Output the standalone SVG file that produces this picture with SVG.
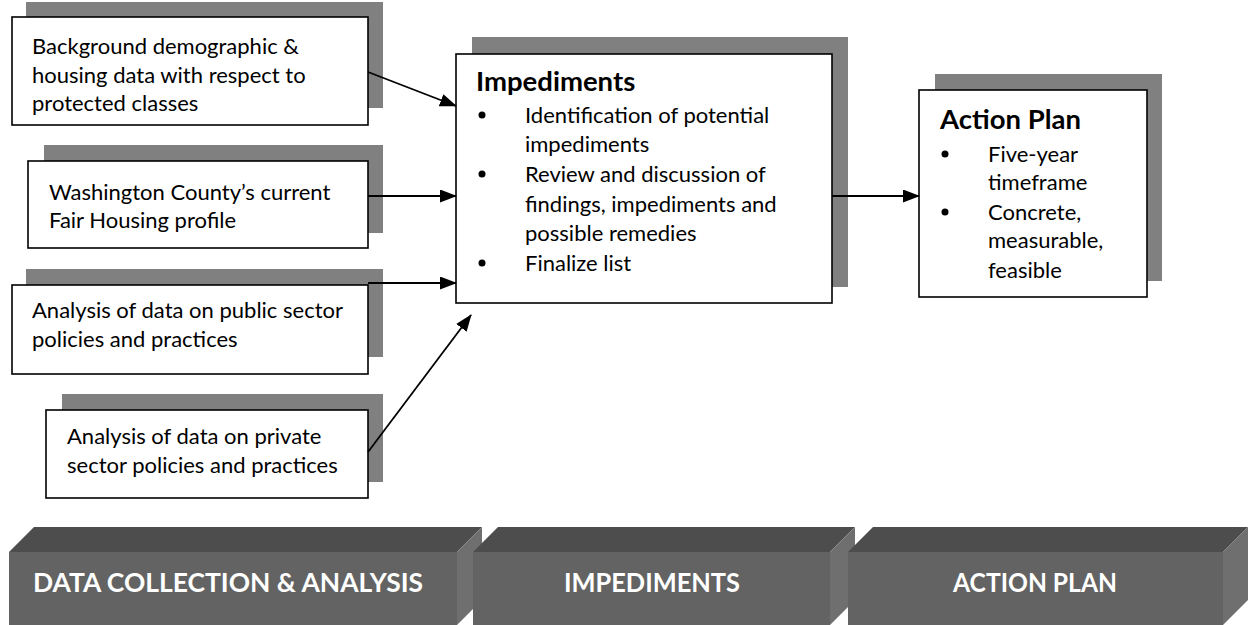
<svg xmlns="http://www.w3.org/2000/svg" width="1255" height="625" viewBox="0 0 1255 625">
<defs>
<style>
.sh{fill:#808080;}
.bx{fill:#fff;stroke:#000;stroke-width:1.6;}
.t{font-family:Lato,"Open Sans",sans-serif;font-size:22px;fill:#000;}
.h{font-family:Lato,"Open Sans",sans-serif;font-size:27.5px;font-weight:bold;fill:#000;}
.bt{font-family:Lato,"Open Sans",sans-serif;font-size:26px;font-weight:bold;fill:#fff;text-anchor:middle;}
.ln{stroke:#000;stroke-width:1.8;fill:none;}
.ft{fill:#636363;}
.tp{fill:#4d4d4d;}
.sd{fill:#6f6f6f;}
</style>
<marker id="ah" markerWidth="17" markerHeight="13" refX="16" refY="6.5" orient="auto" markerUnits="userSpaceOnUse">
<path d="M0,0 L17,6.5 L0,13 Z" fill="#000"/>
</marker>
</defs>
<rect width="1255" height="625" fill="#fff"/>

<g id="node-background">
<rect class="sh" x="26" y="2" width="357" height="106"/>
<rect class="bx" x="12" y="17" width="356" height="108"/>
<text class="t" x="32" y="54">Background demographic &amp;</text>
<text class="t" x="32" y="83">housing data with respect to</text>
<text class="t" x="32" y="111">protected classes</text>
</g>

<g id="node-washington">
<rect class="sh" x="44" y="145" width="339" height="88"/>
<rect class="bx" x="28" y="161" width="340" height="87"/>
<text class="t" x="49" y="200">Washington County’s current</text>
<text class="t" x="49" y="228">Fair Housing profile</text>
</g>

<g id="node-public">
<rect class="sh" x="26" y="269" width="357" height="88"/>
<rect class="bx" x="12" y="285" width="356" height="89"/>
<text class="t" x="32" y="318">Analysis of data on public sector</text>
<text class="t" x="32" y="347">policies and practices</text>
</g>

<g id="node-private">
<rect class="sh" x="62" y="394" width="321" height="88"/>
<rect class="bx" x="46" y="410" width="322" height="88"/>
<text class="t" x="67" y="444">Analysis of data on private</text>
<text class="t" x="67" y="473">sector policies and practices</text>
</g>

<g id="node-impediments">
<rect class="sh" x="472" y="37" width="376" height="250"/>
<rect class="bx" x="456" y="54" width="376" height="249"/>
<text class="h" x="476" y="91">Impediments</text>
<circle cx="482" cy="115" r="3.5"/>
<text class="t" x="525" y="123">Identification of potential</text>
<text class="t" x="525" y="152">impediments</text>
<circle cx="482" cy="174" r="3.5"/>
<text class="t" x="525" y="182">Review and discussion of</text>
<text class="t" x="525" y="212">findings, impediments and</text>
<text class="t" x="525" y="241">possible remedies</text>
<circle cx="482" cy="263" r="3.5"/>
<text class="t" x="525" y="271">Finalize list</text>
</g>

<g id="node-actionplan">
<rect class="sh" x="935" y="74" width="227" height="207"/>
<rect class="bx" x="919" y="90" width="228" height="207"/>
<text class="h" x="940" y="129">Action Plan</text>
<circle cx="945" cy="154" r="3.5"/>
<text class="t" x="988" y="162">Five-year</text>
<text class="t" x="988" y="190">timeframe</text>
<circle cx="945" cy="212" r="3.5"/>
<text class="t" x="988" y="220">Concrete,</text>
<text class="t" x="988" y="248">measurable,</text>
<text class="t" x="988" y="278">feasible</text>
</g>

<g id="connectors">
<line class="ln" x1="368" y1="72" x2="456" y2="106" marker-end="url(#ah)"/>
<line class="ln" x1="368" y1="196" x2="456" y2="196" marker-end="url(#ah)"/>
<line class="ln" x1="368" y1="283" x2="456" y2="283" marker-end="url(#ah)"/>
<line class="ln" x1="368" y1="452" x2="471" y2="315" marker-end="url(#ah)"/>
<line class="ln" x1="832" y1="196" x2="919" y2="196" marker-end="url(#ah)"/>
</g>

<g id="phase-data">
<polygon class="tp" points="9,552 34,527 482,527 457,552"/>
<polygon class="sd" points="457,552 482,527 482,600 457,625"/>
<rect class="ft" x="9" y="552" width="448" height="73"/>
<text class="bt" x="228" y="592" textLength="390" lengthAdjust="spacingAndGlyphs">DATA COLLECTION &amp; ANALYSIS</text>
</g>

<g id="phase-impediments">
<polygon class="tp" points="473,552 498,527 855,527 830,552"/>
<polygon class="sd" points="830,552 855,527 855,600 830,625"/>
<rect class="ft" x="473" y="552" width="357" height="73"/>
<text class="bt" x="652" y="592" textLength="176" lengthAdjust="spacingAndGlyphs">IMPEDIMENTS</text>
</g>

<g id="phase-actionplan">
<polygon class="tp" points="848,552 873,527 1248,527 1223,552"/>
<polygon class="sd" points="1223,552 1248,527 1248,600 1223,625"/>
<rect class="ft" x="848" y="552" width="375" height="73"/>
<text class="bt" x="1035" y="592" textLength="164" lengthAdjust="spacingAndGlyphs">ACTION PLAN</text>
</g>
</svg>
